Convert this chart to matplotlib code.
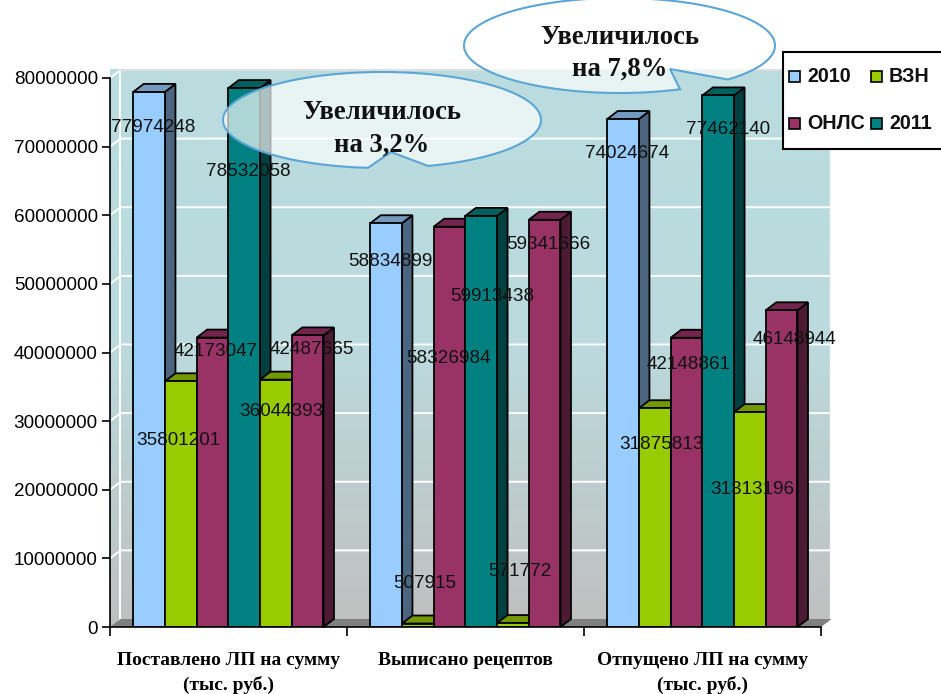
import numpy as np
import matplotlib
matplotlib.use("Agg")
import matplotlib.pyplot as plt
from matplotlib.colors import LinearSegmentedColormap
from matplotlib.patches import Polygon, Rectangle

plt.rcParams["font.family"] = ["Liberation Sans", "DejaVu Sans"]

categories = ["Поставлено ЛП на сумму\n(тыс. руб.)", "Выписано рецептов",
              "Отпущено ЛП на сумму\n(тыс. руб.)"]
legend_names = ["2010", "ВЗН", "ОНЛС", "2011"]

# по годам: 2010 всего / ВЗН / ОНЛС, затем 2011 всего / ВЗН / ОНЛС
total_2010 = [77974248, 58834899, 74024674]
vzn_2010 = [35801201, 507915, 31875813]
onls_2010 = [42173047, 58326984, 42148861]
total_2011 = [78532058, 59913438, 77462140]
vzn_2011 = [36044393, 571772, 31313196]
onls_2011 = [42487665, 59341666, 46148944]
series = [total_2010, vzn_2010, onls_2010, total_2011, vzn_2011, onls_2011]

COL_TOTAL10, COL_VZN, COL_ONLS, COL_TOTAL11 = "#99CCFF", "#99CC00", "#993366", "#008080"
colors = [COL_TOTAL10, COL_VZN, COL_ONLS, COL_TOTAL11, COL_VZN, COL_ONLS]

# смещение "глубины" псевдо-3D в единицах осей
DX, DY = 0.0443, 1.166e6
BAR_W, BAR_START = 0.1338, 0.098
YMAX = 80e6

W, H = 941, 694
fig = plt.figure(figsize=(W / 100, H / 100), dpi=100)
ax = fig.add_axes([110 / W, 1 - 627 / H, 711 / W, 549 / H])
ax.patch.set_visible(False)

# фон: задняя и боковая стенки с градиентом, пол
wall_cmap = LinearSegmentedColormap.from_list("wall", ["#BADDE0", "#BBDADD", "#C0C0C0"])
grad = np.linspace(0, 1, 256).reshape(-1, 1)
ax.imshow(grad, cmap=wall_cmap, aspect="auto", extent=(DX, 3 + DX, DY, YMAX + DY),
          origin="upper", zorder=0, clip_on=False)
side_img = ax.imshow(grad, cmap=wall_cmap, aspect="auto", extent=(0, DX, 0, YMAX + DY),
                     origin="upper", zorder=0, clip_on=False)
side_img.set_clip_path(Polygon([(0, 0), (DX, DY), (DX, YMAX + DY), (0, YMAX)],
                               transform=ax.transData))
ax.add_patch(Polygon([(0, 0), (DX, DY), (3 + DX, DY), (3, 0)], facecolor="#808080",
                     edgecolor="none", zorder=1, clip_on=False))

for v in np.arange(1e7, YMAX + 1, 1e7):
    ax.plot([0, DX, 3 + DX], [v, v + DY, v + DY], color="white", lw=1.4, zorder=0.8, clip_on=False)
ax.plot([DX, DX], [DY, YMAX + DY], color="white", lw=1.4, zorder=0.8, clip_on=False)
ax.plot([3 + DX, 3 + DX], [DY, YMAX + DY], color="white", lw=1.6, zorder=0.8, clip_on=False)
ax.plot([DX, 3 + DX], [YMAX + DY, YMAX + DY], color="#D8D8D8", lw=1.2, zorder=0.8, clip_on=False)

x_groups = np.arange(3)


def shade(color, k):
    rgb = np.array(matplotlib.colors.to_rgb(color))
    return tuple(rgb * k)


# столбцы рисуем слева направо, чтобы следующий перекрывал боковую грань предыдущего
for s, (vals, col) in enumerate(zip(series, colors)):
    lefts = x_groups + BAR_START + s * BAR_W
    z = 3 + s
    for left, v in zip(lefts, vals):
        right = left + BAR_W
        ax.add_patch(Polygon([(right, 0), (right + DX, DY), (right + DX, v + DY), (right, v)],
                             facecolor=shade(col, 0.5), edgecolor="black", lw=1.3, zorder=z - 0.5,
                             clip_on=False))
        ax.add_patch(Polygon([(left, v), (left + DX, v + DY), (right + DX, v + DY), (right, v)],
                             facecolor=shade(col, 0.75), edgecolor="black", lw=1.3, zorder=z - 0.5,
                             clip_on=False))
    ax.bar(lefts, vals, width=BAR_W, align="edge", color=col, edgecolor="black", lw=1.3, zorder=z)

ax.set_xlim(0, 3)
ax.set_ylim(0, YMAX)
for name in ("top", "right"):
    ax.spines[name].set_visible(False)
for name in ("left", "bottom"):
    ax.spines[name].set_linewidth(1.2)
    ax.spines[name].set_zorder(20)

ax.set_yticks(np.arange(0, YMAX + 1, 1e7))
ax.ticklabel_format(axis="y", style="plain", useOffset=False)
ax.tick_params(axis="y", length=5.8, width=1.2, pad=3, labelsize=13.6)
ax.set_xticks([0, 1, 2, 3])
ax.set_xticklabels([])
ax.tick_params(axis="x", which="major", length=6.5, width=1.2)
ax.set_xticks(x_groups + 0.5, minor=True)
ax.set_xticklabels(categories, minor=True, fontfamily="Liberation Serif", fontweight="bold",
                   fontsize=14, linespacing=1.5)
ax.tick_params(axis="x", which="minor", length=0, pad=18)

# верхний слой в пикселях: подписи значений, выноски, легенда
over = fig.add_axes([0, 0, 1, 1], zorder=10)
over.set_xlim(0, W)
over.set_ylim(H, 0)
over.axis("off")

label_xy = [
    [(153, 127), (390, 261), (627, 153)],
    [(178, 440), (425, 583), (661, 444)],
    [(216, 351), (448, 358), (689, 364)],
    [(248, 171), (492, 296), (728, 129)],
    [(281, 411), (520, 571), (752, 489)],
    [(312, 349), (548, 244), (794, 339)],
]
for vals, places in zip(series, label_xy):
    for v, (lx, ly) in zip(vals, places):
        over.text(lx, ly, str(v), ha="center", va="center", fontsize=13.6, color="#111111")


def callout(cx, cy, a, b, tail_left, tip, tail_right):
    t_l = np.arccos((tail_left[0] - cx) / a)
    t_r = np.arccos((tail_right[0] - cx) / a)
    t = np.linspace(t_l, t_r + 2 * np.pi, 240)
    pts = np.column_stack([cx + a * np.cos(t), cy + b * np.sin(t)])
    pts = np.vstack([pts, tip])
    over.add_patch(Polygon(pts, closed=True, facecolor=(1, 1, 1, 0.68), edgecolor="#5BA6D6",
                           lw=1.5, clip_on=True))


callout(382, 120, 159, 48, (368, 169), (391, 152), (428, 167))
callout(619.5, 45.5, 155.5, 47.5, (680, 90), (670, 69), (728, 80))

for tx, ty, txt in [(382, 129, "Увеличилось\nна 3,2%"), (620, 53.5, "Увеличилось\nна 7,8%")]:
    over.text(tx, ty, txt, ha="center", va="center", fontfamily="Liberation Serif",
              fontweight="bold", fontsize=19.2, linespacing=1.38, color="#111111")

# легенда в две колонки, рамка уходит за правый край
over.add_patch(Rectangle((783.5, 51.5), 170, 97, facecolor="white", edgecolor="black", lw=1.5))
legend_xy = [(795, 76), (877, 76), (795, 123), (877, 123)]
for name, col, (lx, ly) in zip(legend_names, colors, legend_xy):
    over.add_patch(Rectangle((lx - 5.5, ly - 5.5), 11, 11, facecolor=col, edgecolor="black", lw=1.2))
    over.text(lx + 12, ly, name, ha="left", va="center", fontweight="bold", fontsize=14.2, color="#111111")

fig.savefig("out.png", dpi=100)
